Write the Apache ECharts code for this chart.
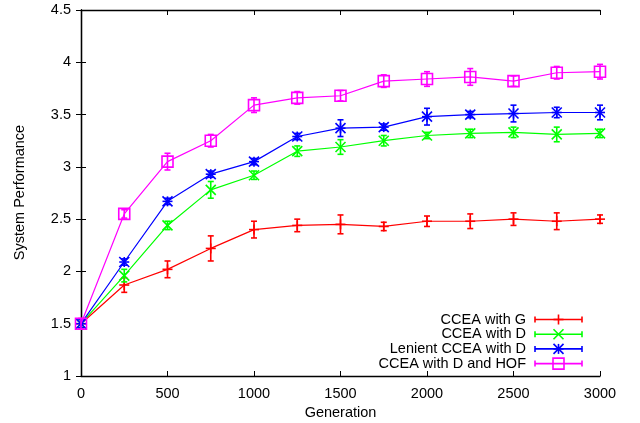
<!DOCTYPE html>
<html>
<head>
<meta charset="utf-8">
<script src="https://cdn.jsdelivr.net/npm/echarts@6/dist/echarts.min.js"></script>
<style>html,body{margin:0;padding:0;background:#fff}#c{width:640px;height:423px}</style>
</head>
<body>
<div id="c"></div>
<script>
var generations = [0, 250, 500, 750, 1000, 1250, 1500, 1750, 2000, 2250, 2500, 2750, 3000];
var seriesNames = ['CCEA with G', 'CCEA with D', 'Lenient CCEA with D', 'CCEA with D and HOF'];
var seriesColors = ['#ff0000', '#00ff00', '#0000ff', '#ff00ff'];
var seriesMarkers = ['plus', 'cross', 'star', 'square'];

var ccegMean = [1.50, 1.87, 2.02, 2.22, 2.40, 2.44, 2.45, 2.43, 2.48, 2.48, 2.50, 2.48, 2.50];
var ccegErr  = [0.04, 0.07, 0.08, 0.12, 0.08, 0.06, 0.09, 0.04, 0.05, 0.07, 0.06, 0.08, 0.04];
var ccedMean = [1.50, 1.96, 2.44, 2.78, 2.92, 3.15, 3.19, 3.25, 3.30, 3.32, 3.33, 3.31, 3.32];
var ccedErr  = [0.04, 0.06, 0.04, 0.08, 0.04, 0.05, 0.07, 0.05, 0.03, 0.04, 0.05, 0.07, 0.04];
var lenMean  = [1.50, 2.09, 2.67, 2.93, 3.05, 3.29, 3.37, 3.38, 3.48, 3.50, 3.51, 3.52, 3.52];
var lenErr   = [0.04, 0.03, 0.03, 0.03, 0.03, 0.03, 0.08, 0.03, 0.08, 0.03, 0.08, 0.05, 0.07];
var hofMean  = [1.50, 2.55, 3.05, 3.25, 3.59, 3.66, 3.68, 3.82, 3.84, 3.86, 3.82, 3.90, 3.91];
var hofErr   = [0.05, 0.04, 0.08, 0.06, 0.07, 0.06, 0.05, 0.06, 0.07, 0.08, 0.05, 0.06, 0.07];

var means = [ccegMean, ccedMean, lenMean, hofMean];
var errs = [ccegErr, ccedErr, lenErr, hofErr];

var FONT = 'Liberation Sans, Arial, sans-serif';

function markerShapes(kind, cx, cy, color) {
  var st = {stroke: color, lineWidth: 1.6, fill: null};
  var s = 5;
  var out = [];
  function ln(x1, y1, x2, y2) {
    out.push({type: 'line', shape: {x1: x1, y1: y1, x2: x2, y2: y2}, style: st});
  }
  if (kind === 'plus') {
    ln(cx - s, cy, cx + s, cy); ln(cx, cy - s, cx, cy + s);
  } else if (kind === 'cross') {
    ln(cx - s, cy - s, cx + s, cy + s); ln(cx - s, cy + s, cx + s, cy - s);
  } else if (kind === 'star') {
    ln(cx - s, cy - s, cx + s, cy + s); ln(cx - s, cy + s, cx + s, cy - s);
    ln(cx - s, cy, cx + s, cy); ln(cx, cy - s, cx, cy + s);
  } else if (kind === 'square') {
    out.push({type: 'rect', shape: {x: cx - 5.5, y: cy - 5.5, width: 11, height: 11}, style: st});
  }
  return out;
}

function makeRender(idx) {
  var color = seriesColors[idx];
  var kind = seriesMarkers[idx];
  return function (params, api) {
    var x = api.value(0), m = api.value(1), e = api.value(2);
    var c = api.coord([x, m]);
    var hi = api.coord([x, m + e]);
    var lo = api.coord([x, m - e]);
    var st = {stroke: color, lineWidth: 1.6};
    var cap = 3;
    var ch = [
      {type: 'line', shape: {x1: c[0], y1: hi[1], x2: c[0], y2: lo[1]}, style: st},
      {type: 'line', shape: {x1: c[0] - cap, y1: hi[1], x2: c[0] + cap, y2: hi[1]}, style: st},
      {type: 'line', shape: {x1: c[0] - cap, y1: lo[1], x2: c[0] + cap, y2: lo[1]}, style: st}
    ].concat(markerShapes(kind, c[0], c[1], color));
    return {type: 'group', children: ch};
  };
}

var series = [];
seriesNames.forEach(function (name, i) {
  series.push({
    name: name, type: 'line', symbol: 'none', silent: true, animation: false,
    data: generations.map(function (g, j) { return [g, means[i][j]]; }),
    lineStyle: {color: seriesColors[i], width: 1.2}, z: 2 + i * 2
  });
  series.push({
    name: name + ' err', type: 'custom', silent: true, animation: false,
    renderItem: makeRender(i), clip: false,
    data: generations.map(function (g, j) { return [g, means[i][j], errs[i][j]]; }),
    z: 3 + i * 2
  });
});

// legend drawn as graphic (gnuplot style: text then sample)
var legendEls = [];
var lgTextRight = 526, lgSampleL = 535, lgSampleR = 582, lgTop = 319.5, lgStep = 14.7;
seriesNames.forEach(function (name, i) {
  var y = lgTop + i * lgStep;
  var col = seriesColors[i];
  var st = {stroke: col, lineWidth: 1.6};
  legendEls.push({type: 'text', x: lgTextRight, y: y,
    style: {text: name, fill: '#000', font: '14.5px ' + FONT, textAlign: 'right', textVerticalAlign: 'middle'}, z: 20});
  legendEls.push({type: 'line', shape: {x1: lgSampleL, y1: y, x2: lgSampleR, y2: y}, style: st, z: 20});
  legendEls.push({type: 'line', shape: {x1: lgSampleL, y1: y - 3, x2: lgSampleL, y2: y + 3}, style: st, z: 20});
  legendEls.push({type: 'line', shape: {x1: lgSampleR, y1: y - 3, x2: lgSampleR, y2: y + 3}, style: st, z: 20});
  markerShapes(seriesMarkers[i], (lgSampleL + lgSampleR) / 2, y, col).forEach(function (el) {
    el.z = 20; legendEls.push(el);
  });
});
legendEls.push({type: 'text', x: 20, y: 192.5, rotation: Math.PI / 2,
  style: {text: 'System Performance', fill: '#000', font: '14.5px ' + FONT, textAlign: 'center', textVerticalAlign: 'middle'}});
legendEls.push({type: 'text', x: 340.5, y: 413,
  style: {text: 'Generation', fill: '#000', font: '14.5px ' + FONT, textAlign: 'center', textVerticalAlign: 'middle'}});

function plainLabel(v) { return String(v); }

var axisLineStyle = {show: true, lineStyle: {color: '#000', width: 1.3}};
var option = {
  animation: false,
  backgroundColor: '#fff',
  grid: {left: 81, right: 40, top: 10, bottom: 47},
  xAxis: [
    {type: 'value', min: 0, max: 3000, interval: 500, position: 'bottom',
     axisLine: axisLineStyle, axisTick: {inside: true, length: 5, lineStyle: {color: '#000'}},
     axisLabel: {color: '#000', fontSize: 14.5, fontFamily: FONT, margin: 10, formatter: plainLabel},
     splitLine: {show: false}},
    {type: 'value', min: 0, max: 3000, interval: 500, position: 'top',
     axisLine: axisLineStyle, axisTick: {inside: true, length: 5, lineStyle: {color: '#000'}},
     axisLabel: {show: false}, splitLine: {show: false}}
  ],
  yAxis: [
    {type: 'value', min: 1, max: 4.5, interval: 0.5, position: 'left',
     axisLine: axisLineStyle, axisTick: {inside: true, length: 5, lineStyle: {color: '#000'}},
     axisLabel: {color: '#000', fontSize: 14.5, fontFamily: FONT, margin: 10, formatter: plainLabel},
     splitLine: {show: false}},
    {type: 'value', min: 1, max: 4.5, interval: 0.5, position: 'right',
     axisLine: axisLineStyle, axisTick: {inside: true, length: 5, lineStyle: {color: '#000'}},
     axisLabel: {show: false}, splitLine: {show: false}}
  ],
  graphic: legendEls,
  series: series
};
var chart = echarts.init(document.getElementById('c'), null, {renderer: 'canvas'});
chart.setOption(option);
</script>
</body>
</html>
